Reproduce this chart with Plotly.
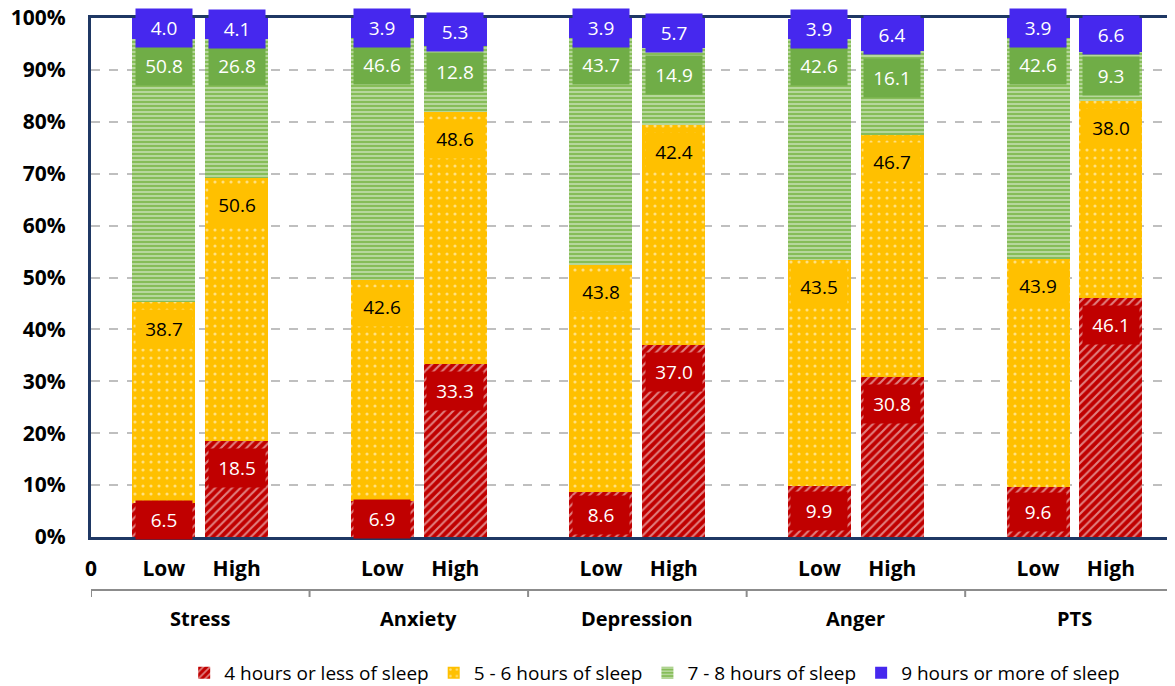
import plotly.graph_objects as go

grupos = ["Stress", "Anxiety", "Depression", "Anger", "PTS"]
niveis = ["Low", "High"]

series = [
    "4 hours or less of sleep",
    "5 - 6 hours of sleep",
    "7 - 8 hours of sleep",
    "9 hours or more of sleep",
]
sono_4h = [6.5, 18.5, 6.9, 33.3, 8.6, 37.0, 9.9, 30.8, 9.6, 46.1]
sono_5_6h = [38.7, 50.6, 42.6, 48.6, 43.8, 42.4, 43.5, 46.7, 43.9, 38.0]
sono_7_8h = [50.8, 26.8, 46.6, 12.8, 43.7, 14.9, 42.6, 16.1, 42.6, 9.3]
sono_9h = [4.0, 4.1, 3.9, 5.3, 3.9, 5.7, 3.9, 6.4, 3.9, 6.6]

valores = [sono_4h, sono_5_6h, sono_7_8h, sono_9h]
cores = ["#c00000", "#ffc000", "#70ad47", "#4628ee"]
cor_texto = ["white", "black", "white", "white"]
padroes = [
    dict(shape="/", fgcolor="white", bgcolor="#c00000", size=6, solidity=0.35),
    dict(shape=".", fgcolor="white", bgcolor="#ffc000", size=8, solidity=0.12),
    dict(shape="-", fgcolor="white", bgcolor="#86bd58", size=4, solidity=0.4),
    dict(shape="", fgcolor="#4628ee", bgcolor="#4628ee"),
]

# posicoes no eixo: cada grupo ocupa 3 unidades, Low em +1 e High em +2
xs = [3 * g + 1 + n for g in range(len(grupos)) for n in range(len(niveis))]

fonte = "Open Sans"
fig = go.Figure()
for nome, vals, cor, pad in zip(series, valores, cores, padroes):
    fig.add_trace(go.Bar(
        x=xs, y=vals, name=nome, width=0.865,
        marker=dict(color=cor, pattern=pad, line=dict(width=0)),
        hoverinfo="skip",
    ))

# rotulos de dados em caixas
base = [0.0] * len(xs)
for vals, cor, ct in zip(valores, cores, cor_texto):
    for i, v in enumerate(vals):
        topo = base[i] + v
        meio = base[i] + v / 2
        ypos = max(meio, topo - 5.2) if topo < 99.5 else meio
        fig.add_annotation(
            x=xs[i], y=ypos, text=f"{v:.1f}", showarrow=False,
            bgcolor=cor, borderpad=6, width=44,
            font=dict(family=fonte, size=19, color=ct),
        )
        base[i] = topo

# nomes dos grupos e linha separadora
for g, nome in enumerate(grupos):
    fig.add_annotation(
        x=3 * g + 1.5, y=0, yref="paper", yanchor="middle", yshift=-81,
        text=f"<b>{nome}</b>", showarrow=False,
        font=dict(family=fonte, size=20, color="black"),
    )
    fig.add_shape(type="line", xref="x", yref="paper", ysizemode="pixel", yanchor=0,
                  x0=3 * g, x1=3 * g, y0=-53, y1=-60,
                  line=dict(color="#8c8c8c", width=2))
fig.add_shape(type="line", xref="paper", yref="paper", ysizemode="pixel", yanchor=0,
              x0=0, x1=1, y0=-53, y1=-53, line=dict(color="#8c8c8c", width=2))

tickvals = [0] + xs
ticktext = ["<b>0</b>"] + [f"<b>{n}</b>" for g in grupos for n in niveis]

# a pagina tem margem de 8px no body, por isso a figura e um pouco menor
fig.update_layout(
    width=1167, height=678,
    margin=dict(l=83, r=0, t=10, b=149, autoexpand=False),
    barmode="stack", bargap=0,
    plot_bgcolor="white", paper_bgcolor="white",
    font=dict(family=fonte, color="black"),
    showlegend=True,
    legend=dict(orientation="h", x=0.52, xanchor="center", y=-0.262, yanchor="middle",
                font=dict(family=fonte, size=19, color="black"), traceorder="normal",
                itemwidth=30),
)
fig.update_xaxes(
    range=[0, 14.88], tickvals=tickvals, ticktext=ticktext, automargin=False,
    tickfont=dict(family=fonte, size=21, color="black"),
    ticks="", ticklabelstandoff=11,
    showline=True, mirror=True, linecolor="#1f3864", linewidth=3,
    showgrid=False, zeroline=False,
)
fig.update_yaxes(
    range=[0, 100], dtick=10, automargin=False, ticklabeloverflow="allow",
    tickfont=dict(family=fonte, size=21, color="black"),
    ticks="", ticklabelstandoff=18,
    showline=True, linecolor="#1f3864", linewidth=3,
    showgrid=True, gridcolor="#bfbfbf", gridwidth=2, griddash="dash",
    zeroline=False,
)
fig.update_yaxes(tickprefix="<b>", ticksuffix="%</b>")

fig.write_html("out.html")
